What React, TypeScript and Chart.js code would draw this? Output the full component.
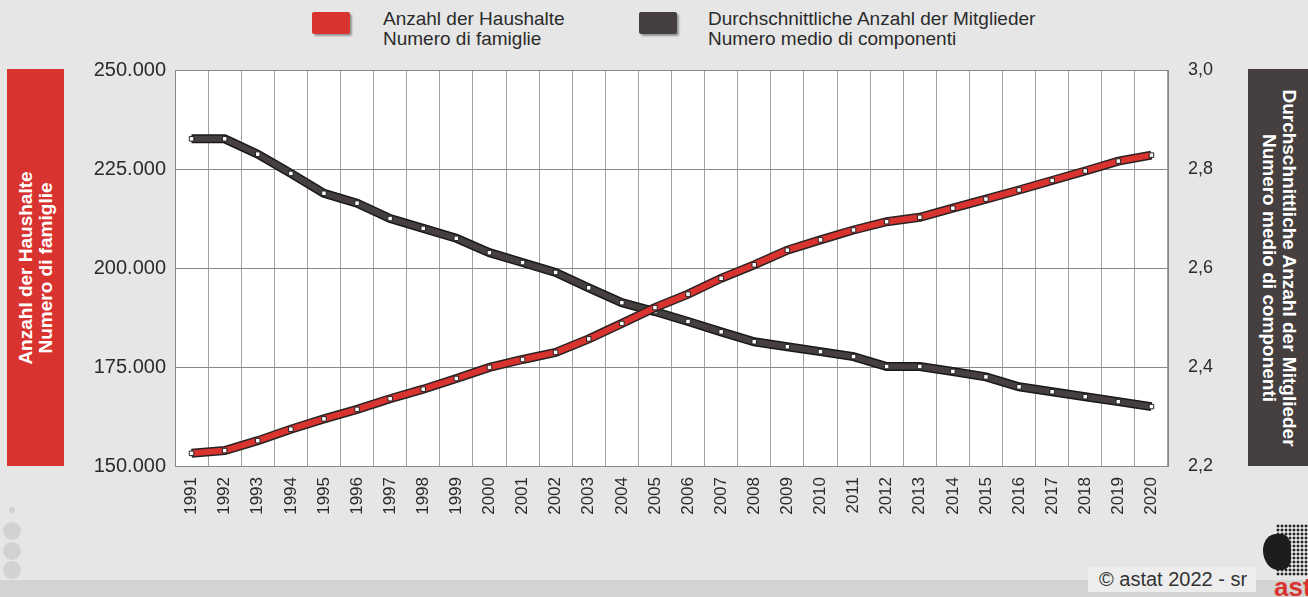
import React, { useEffect, useRef } from "react";
import { Chart, registerables } from "chart.js";

Chart.register(...registerables);

const years = [
  "1991", "1992", "1993", "1994", "1995", "1996", "1997", "1998", "1999", "2000",
  "2001", "2002", "2003", "2004", "2005", "2006", "2007", "2008", "2009", "2010",
  "2011", "2012", "2013", "2014", "2015", "2016", "2017", "2018", "2019", "2020",
];

const households = [
  153200, 153900, 156400, 159300, 161900, 164300, 167000, 169400, 172100, 174900,
  176900, 178700, 182100, 186000, 190000, 193400, 197400, 200800, 204500, 207100,
  209600, 211700, 212800, 215100, 217400, 219700, 222100, 224500, 227000, 228500,
];

const avgMembers = [
  2.861, 2.861, 2.83, 2.791, 2.751, 2.731, 2.7, 2.68, 2.66, 2.631,
  2.611, 2.591, 2.56, 2.53, 2.512, 2.492, 2.471, 2.451, 2.441, 2.431,
  2.421, 2.401, 2.401, 2.391, 2.38, 2.36, 2.35, 2.34, 2.33, 2.32,
];

const leftTitle = ["Anzahl der Haushalte", "Numero di famiglie"];
const rightTitle = ["Durchschnittliche Anzahl der Mitglieder", "Numero medio di componenti"];
const footer = "© astat 2022 - sr";

const RED = "#d9332f";
const DARK = "#45403f";
const FONT = "'Liberation Sans', Arial, sans-serif";

const whitePlot = {
  id: "whitePlot",
  beforeDraw(chart: any) {
    const { ctx, chartArea } = chart;
    if (!chartArea) return;
    ctx.save();
    ctx.fillStyle = "#ffffff";
    ctx.fillRect(chartArea.left, chartArea.top, chartArea.right - chartArea.left, chartArea.bottom - chartArea.top);
    ctx.restore();
  },
};

export default function App() {
  const ref = useRef<HTMLCanvasElement | null>(null);

  useEffect(() => {
    if (!ref.current) return;
    const chart = new Chart(ref.current, {
      type: "line",
      data: {
        labels: years,
        datasets: [
          {
            label: "red",
            data: households,
            yAxisID: "y",
            borderColor: RED,
            borderWidth: 6,
            pointStyle: "rect",
            pointRadius: 3.2,
            pointBackgroundColor: "#ffffff",
            pointBorderColor: "#222",
            pointBorderWidth: 1,
            tension: 0,
            order: 1,
          },
          {
            label: "red-outline",
            data: households,
            yAxisID: "y",
            borderColor: "#2a2222",
            borderWidth: 9,
            pointRadius: 0,
            tension: 0,
            order: 2,
          },
          {
            label: "dark",
            data: avgMembers,
            yAxisID: "y1",
            borderColor: DARK,
            borderWidth: 6,
            pointStyle: "rect",
            pointRadius: 3.2,
            pointBackgroundColor: "#ffffff",
            pointBorderColor: "#222",
            pointBorderWidth: 1,
            tension: 0,
            order: 3,
          },
          {
            label: "dark-outline",
            data: avgMembers,
            yAxisID: "y1",
            borderColor: "#1a1818",
            borderWidth: 9,
            pointRadius: 0,
            tension: 0,
            order: 4,
          },
        ],
      },
      plugins: [whitePlot],
      options: {
        responsive: true,
        maintainAspectRatio: false,
        animation: false,
        layout: { padding: { top: 70, left: 0, right: 0, bottom: 0 } },
        plugins: {
          legend: { display: false },
          tooltip: { enabled: false },
        },
        scales: {
          x: {
            offset: true,
            grid: { offset: true, color: "#a0a0a0", lineWidth: 1, drawTicks: false },
            border: { display: true, color: "#888" },
            ticks: {
              minRotation: 90,
              maxRotation: 90,
              autoSkip: false,
              padding: 11,
              color: "#2b2b2b",
              font: { family: FONT, size: 17 },
            },
            afterFit: (s: any) => {
              s.height = 131;
            },
          },
          y: {
            position: "left",
            min: 150000,
            max: 250000,
            grid: { color: "#8a8a8a", lineWidth: 1, drawTicks: false },
            border: { display: true, color: "#888" },
            ticks: {
              stepSize: 25000,
              padding: 9,
              color: "#2b2b2b",
              font: { family: FONT, size: 20 },
              callback: (v: any) => Number(v).toLocaleString("de-DE"),
            },
            afterFit: (s: any) => {
              s.width = 175;
            },
          },
          y1: {
            position: "right",
            min: 2.2,
            max: 3.0,
            grid: { display: false, drawTicks: false },
            border: { display: true, color: "#888" },
            ticks: {
              stepSize: 0.2,
              padding: 20,
              color: "#2b2b2b",
              font: { family: FONT, size: 18 },
              callback: (v: any) => Number(v).toFixed(1).replace(".", ","),
            },
            afterFit: (s: any) => {
              s.width = 140;
            },
          },
        },
      },
    });
    return () => chart.destroy();
  }, []);

  const legendText: React.CSSProperties = {
    position: "absolute",
    fontFamily: FONT,
    fontSize: 19,
    lineHeight: "20px",
    color: "#2b2b2b",
    whiteSpace: "nowrap",
  };
  const swatch = (left: number, color: string): React.CSSProperties => ({
    position: "absolute",
    left,
    top: 12,
    width: 38,
    height: 22,
    background: color,
    borderRadius: 2,
    boxShadow: "2px 2px 2px rgba(0,0,0,0.35)",
  });
  const dot = (top: number, size: number): React.CSSProperties => ({
    position: "absolute",
    left: 12 - size / 2,
    top: top - size / 2,
    width: size,
    height: size,
    borderRadius: "50%",
    background: "#d2d2d2",
  });
  const boxText = (deg: number): React.CSSProperties => ({
    position: "absolute",
    left: "50%",
    top: "50%",
    transform: `translate(-50%, -50%) rotate(${deg}deg)`,
    color: "#fff",
    fontFamily: FONT,
    fontWeight: "bold",
    fontSize: 19,
    lineHeight: "20px",
    textAlign: "center",
    whiteSpace: "nowrap",
  });

  return (
    <div
      style={{
        position: "fixed",
        left: 0,
        top: 0,
        width: 1308,
        height: 597,
        background: "#e6e6e6",
        overflow: "hidden",
      }}
    >
      <div style={{ position: "absolute", left: 0, top: 580, width: 1308, height: 17, background: "#d3d3d3" }} />
      <div style={{ position: "absolute", left: 1088, top: 567, width: 168, height: 25, background: "#ededed" }} />
      <div
        style={{
          position: "absolute",
          left: 1099,
          top: 568,
          fontFamily: FONT,
          fontSize: 20,
          lineHeight: "22px",
          color: "#333",
          whiteSpace: "nowrap",
        }}
      >
        {footer}
      </div>
      {/* logo approximation */}
      <div
        style={{
          position: "absolute",
          left: 1276,
          top: 524,
          width: 32,
          height: 52,
          backgroundImage: "radial-gradient(circle, #222 1.3px, transparent 1.7px)",
          backgroundSize: "4px 4px",
        }}
      />
      <div
        style={{
          position: "absolute",
          left: 1263,
          top: 534,
          width: 28,
          height: 36,
          background: "#1d1d1d",
          borderRadius: "45% 35% 30% 55%",
        }}
      />
      <div
        style={{
          position: "absolute",
          left: 1274,
          top: 574,
          fontFamily: FONT,
          fontWeight: "bold",
          fontSize: 26,
          lineHeight: "26px",
          color: RED,
        }}
      >
        astat
      </div>
      <div style={dot(510, 6)} />
      <div style={dot(531, 18)} />
      <div style={dot(551, 18)} />
      <div style={dot(570, 18)} />

      <div style={{ position: "absolute", left: 7, top: 69, width: 57, height: 397, background: RED }}>
        <div style={boxText(-90)}>
          {leftTitle[0]}
          <br />
          {leftTitle[1]}
        </div>
      </div>
      <div style={{ position: "absolute", left: 1248, top: 69, width: 62, height: 397, background: DARK }}>
        <div style={boxText(90)}>
          {rightTitle[0]}
          <br />
          {rightTitle[1]}
        </div>
      </div>

      <div style={swatch(312, RED)} />
      <div style={{ ...legendText, left: 383, top: 9 }}>
        {leftTitle[0]}
        <br />
        {leftTitle[1]}
      </div>
      <div style={swatch(639, DARK)} />
      <div style={{ ...legendText, left: 708, top: 9 }}>
        {rightTitle[0]}
        <br />
        {rightTitle[1]}
      </div>

      <div style={{ position: "absolute", left: 0, top: 0, width: 1308, height: 597 }}>
        <canvas ref={ref} />
      </div>
    </div>
  );
}
